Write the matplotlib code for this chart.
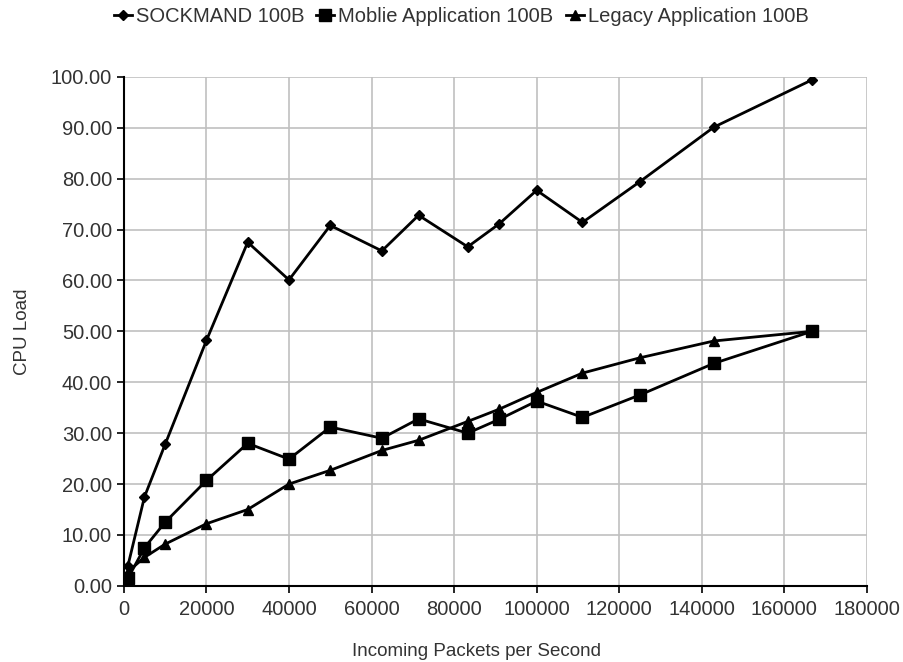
import matplotlib
matplotlib.use("Agg")
import matplotlib.pyplot as plt

plt.rcParams['font.family'] = ['Liberation Sans', 'DejaVu Sans']

packets = [1000, 5000, 10000, 20000, 30000, 40000, 50000, 62500, 71400,
           83300, 90900, 100000, 111100, 125000, 142900, 166700]
sockmand = [4.0, 17.5, 27.8, 48.2, 67.5, 60.1, 70.8, 65.8, 72.8,
            66.6, 71.1, 77.7, 71.4, 79.4, 90.1, 99.4]
mobile = [1.5, 7.5, 12.5, 20.7, 28.0, 24.9, 31.2, 29.0, 32.8,
          30.0, 32.7, 36.3, 33.1, 37.5, 43.7, 50.0]
legacy = [2.8, 5.6, 8.2, 12.2, 15.0, 20.0, 22.7, 26.6, 28.6,
          32.3, 34.7, 38.0, 41.8, 44.8, 48.1, 50.0]

text_col = '#333333'

fig = plt.figure(figsize=(9.04, 6.62), dpi=100)
ax = fig.add_axes([0.137, 0.115, 0.822, 0.769])

ax.plot(packets, sockmand, color='black', lw=2, marker='D', ms=5.5, label='SOCKMAND 100B')
ax.plot(packets, mobile, color='black', lw=2, marker='s', ms=8, label='Moblie Application 100B')
ax.plot(packets, legacy, color='black', lw=2, marker='^', ms=7.5, label='Legacy Application 100B')

ax.set_xlim(0, 180000)
ax.set_ylim(0, 100)
ax.set_xticks(range(0, 180001, 20000))
ax.set_yticks(range(0, 101, 10))
ax.set_yticklabels([f'{v:.2f}' for v in range(0, 101, 10)])
ax.grid(True, color='#c0c0c0', lw=1.2)
ax.set_axisbelow(True)

for s in ['top', 'right']:
    ax.spines[s].set_visible(False)
for s in ['left', 'bottom']:
    ax.spines[s].set_linewidth(1.5)
    ax.spines[s].set_color('black')

ax.tick_params(axis='both', labelsize=14.5, colors=text_col, length=5, width=1.2)
ax.tick_params(axis='both', color='black')
ax.tick_params(axis='x', pad=5)

ax.set_xlabel('Incoming Packets per Second', fontsize=13.5, color=text_col)
ax.xaxis.set_label_coords(0.474, -0.113)
ax.set_ylabel('CPU Load', fontsize=13.5, color=text_col, labelpad=14)

fig.legend(loc='upper center', bbox_to_anchor=(0.51, 1.017), ncol=3, frameon=False,
           fontsize=14.5, handlelength=0.9, handletextpad=0.2, columnspacing=0.6,
           labelcolor=text_col)

fig.savefig('out.png', dpi=100)
